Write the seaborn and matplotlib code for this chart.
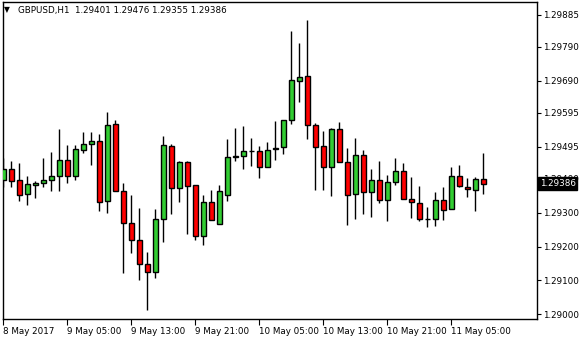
import numpy as np
import pandas as pd
import matplotlib
matplotlib.use("Agg")
import matplotlib.pyplot as plt
import matplotlib.transforms as mtransforms
import seaborn as sns

# ---------------- data (GBPUSD H1) ----------------
start_time = "2017-05-08 21:00"
opens = [1.29397, 1.29428, 1.29397, 1.29356, 1.29381, 1.29389, 1.29396, 1.29410, 1.29455, 1.29408,
         1.29486, 1.29502, 1.29511, 1.29334, 1.29561, 1.29363, 1.29269, 1.29219, 1.29148, 1.29126,
         1.29281, 1.29496, 1.29372, 1.29449, 1.29381, 1.29232, 1.29331, 1.29266, 1.29351, 1.29464,
         1.29467, 1.29481, 1.29481, 1.29434, 1.29487, 1.29493, 1.29573, 1.29688, 1.29703, 1.29558,
         1.29496, 1.29434, 1.29546, 1.29449, 1.29354, 1.29470, 1.29360, 1.29396, 1.29337, 1.29390,
         1.29422, 1.29340, 1.29328, 1.29281, 1.29281, 1.29337, 1.29310, 1.29408, 1.29375, 1.29366,
         1.29401]
highs = [1.29461, 1.29453, 1.29447, 1.29409, 1.29393, 1.29461, 1.29479, 1.29547, 1.29500, 1.29500,
         1.29539, 1.29539, 1.29533, 1.29598, 1.29574, 1.29388, 1.29352, 1.29314, 1.29184, 1.29311,
         1.29527, 1.29503, 1.29453, 1.29453, 1.29381, 1.29351, 1.29366, 1.29381, 1.29518, 1.29550,
         1.29556, 1.29521, 1.29497, 1.29509, 1.29571, 1.29574, 1.29836, 1.29801, 1.29869, 1.29564,
         1.29541, 1.29550, 1.29568, 1.29490, 1.29520, 1.29484, 1.29428, 1.29452, 1.29411, 1.29461,
         1.29446, 1.29405, 1.29378, 1.29316, 1.29360, 1.29375, 1.29434, 1.29440, 1.29402, 1.29405,
         1.29476]
lows = [1.29375, 1.29377, 1.29336, 1.29324, 1.29345, 1.29375, 1.29365, 1.29365, 1.29389, 1.29397,
        1.29477, 1.29442, 1.29306, 1.29300, 1.29363, 1.29123, 1.29182, 1.29102, 1.29014, 1.29108,
        1.29215, 1.29297, 1.29333, 1.29238, 1.29220, 1.29206, 1.29278, 1.29266, 1.29336, 1.29454,
        1.29430, 1.29439, 1.29404, 1.29434, 1.29457, 1.29474, 1.29563, 1.29628, 1.29519, 1.29368,
        1.29368, 1.29350, 1.29449, 1.29265, 1.29283, 1.29297, 1.29288, 1.29328, 1.29277, 1.29381,
        1.29340, 1.29285, 1.29277, 1.29259, 1.29262, 1.29280, 1.29310, 1.29375, 1.29348, 1.29306,
        1.29355]
closes = [1.29428, 1.29393, 1.29351, 1.29384, 1.29389, 1.29397, 1.29408, 1.29455, 1.29408, 1.29487,
          1.29502, 1.29511, 1.29331, 1.29558, 1.29363, 1.29269, 1.29219, 1.29148, 1.29126, 1.29281,
          1.29499, 1.29374, 1.29449, 1.29378, 1.29230, 1.29331, 1.29278, 1.29363, 1.29464, 1.29468,
          1.29481, 1.29481, 1.29434, 1.29484, 1.29491, 1.29574, 1.29691, 1.29700, 1.29558, 1.29493,
          1.29434, 1.29546, 1.29449, 1.29351, 1.29470, 1.29360, 1.29396, 1.29337, 1.29390, 1.29422,
          1.29340, 1.29331, 1.29281, 1.29281, 1.29337, 1.29307, 1.29408, 1.29378, 1.29369, 1.29399,
          1.29386]
ytick_values = [1.29885, 1.29790, 1.29690, 1.29595, 1.29495, 1.29400, 1.29300, 1.29200, 1.29100, 1.29000]
symbol_title = "GBPUSD,H1"

# ---------------- build table ----------------
times = pd.date_range(start_time, periods=len(opens), freq="h")
df = pd.DataFrame({"time": times, "open": opens, "high": highs, "low": lows, "close": closes})
df["idx"] = np.arange(len(df))
df["bull"] = df["close"] >= df["open"]

sns.set_style("white")
plt.rcParams["font.family"] = ["DejaVu Sans"]

W, H = 580, 340
fig = plt.figure(figsize=(W / 100, H / 100), dpi=100)
ax = fig.add_axes([2.7 / W, 1 - 319 / H, (536.7 - 2.7) / W, (319 - 1.7) / H])

green = "#32CD32"
red = "#FF0000"

# wicks
ax.vlines(df["idx"], df["low"], df["high"], color="black", linewidth=1.0, zorder=2)
# bodies
body_bottom = np.minimum(df["open"], df["close"])
body_height = np.abs(df["close"] - df["open"])
colors = np.where(df["bull"], green, red)
ax.bar(df["idx"], body_height, bottom=body_bottom, width=0.6, color=colors,
       edgecolor="black", linewidth=1.0, zorder=3)

ax.set_xlim(-0.075, 66.675)
ax.set_ylim(1.289861, 1.299235)

# spines
for s in ax.spines.values():
    s.set_visible(True)
    s.set_color("black")
    s.set_linewidth(1.0)

# y axis on right
ax.yaxis.tick_right()
ax.set_yticks(ytick_values)
ax.set_yticklabels([f"{v:.5f}" for v in ytick_values])
ax.tick_params(axis="y", direction="out", length=3, width=0.8, pad=1.5, labelsize=6.3,
               colors="black", right=True, left=False)

# x axis ticks every 8 bars
tick_idx = list(range(0, len(df), 8))
tick_labels = []
for i in tick_idx:
    t = df["time"].iloc[i]
    if i == 0:
        tick_labels.append(f"{t.day} {t.strftime('%B')} {t.year}")
    else:
        tick_labels.append(f"{t.day} {t.strftime('%b')} {t.strftime('%H:%M')}")
ax.set_xticks(tick_idx)
ax.set_xticklabels(tick_labels, ha="left")
ax.tick_params(axis="x", direction="out", length=4, width=0.8, pad=2, labelsize=6.3,
               colors="black", bottom=True)
for lbl in ax.get_xticklabels():
    lbl.set_horizontalalignment("left")

ax.set_xlabel("")
ax.set_ylabel("")
ax.grid(False)

# header
fig.text(4 / W, 1 - 10 / H, "\u25BC", fontsize=5.5, va="center", ha="left", color="black")
last = df.iloc[-1]
fig.text(18 / W, 1 - 10 / H,
         f"{symbol_title}  {last['open']:.5f} {last['high']:.5f} {last['low']:.5f} {last['close']:.5f}",
         fontsize=6.3, va="center", ha="left", color="black")

# current price label
trans = mtransforms.blended_transform_factory(ax.transAxes, ax.transData)
ax.text(1.0 + 3 / 534, last["close"], f"{last['close']:.5f}", transform=trans,
        fontsize=6.3, color="white", va="center", ha="left", zorder=10, clip_on=False,
        bbox=dict(boxstyle="square,pad=0.2", fc="black", ec="black"))

fig.savefig("out.png", dpi=100)
